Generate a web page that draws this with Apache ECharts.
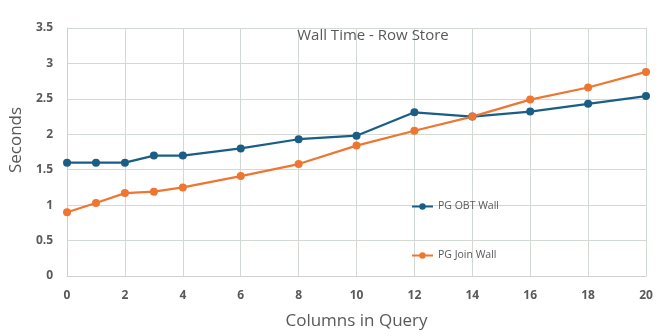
<!DOCTYPE html>
<html>
<head>
<meta charset="utf-8">
<script src="https://cdn.jsdelivr.net/npm/echarts@6/dist/echarts.min.js"></script>
<style>
  html, body { margin: 0; padding: 0; background: #fff; }
  #chart { width: 665px; height: 336px; }
</style>
</head>
<body>
<div id="chart"></div>
<script>
// Number of columns selected in each query
const columns = [0, 1, 2, 3, 4, 6, 8, 10, 12, 14, 16, 18, 20];
// Wall time in seconds, one-big-table layout
const obtWall = [1.60, 1.60, 1.60, 1.70, 1.70, 1.80, 1.93, 1.98, 2.31, 2.25, 2.32, 2.43, 2.54];
// Wall time in seconds, joined-tables layout
const joinWall = [0.90, 1.03, 1.17, 1.19, 1.25, 1.41, 1.58, 1.84, 2.05, 2.25, 2.49, 2.66, 2.88];

const seriesNames = ['PG OBT Wall', 'PG Join Wall'];
const colors = ['#1A5E86', '#EE7631'];

const pairs = (xs, ys) => xs.map((x, i) => [x, ys[i]]);

const chart = echarts.init(document.getElementById('chart'));
const font = '"Open Sans", "Noto Sans", sans-serif';

chart.setOption({
  animation: false,
  textStyle: { fontFamily: font },
  title: {
    text: 'Wall Time - Row Store',
    left: 368,
    top: 23,
    textAlign: 'center',
    textStyle: { fontSize: 15, fontWeight: 'normal', color: '#595959', fontFamily: font }
  },
  legend: {
    orient: 'vertical',
    left: 406,
    top: 196,
    itemGap: 38,
    itemWidth: 21,
    itemHeight: 8,
    textStyle: { fontSize: 10.5, color: '#595959', fontFamily: font },
    data: seriesNames
  },
  grid: { left: 66, right: 19, top: 28, bottom: 60 },
  xAxis: {
    type: 'value',
    min: 0,
    max: 20,
    interval: 2,
    name: 'Columns in Query',
    nameLocation: 'middle',
    nameGap: 37,
    nameTextStyle: { fontSize: 17, color: '#595959', fontFamily: font },
    axisLine: { lineStyle: { color: '#cfcfcf', type: 'dashed' } },
    axisTick: { show: false },
    axisLabel: { margin: 14, fontSize: 12, fontWeight: 'bold', color: '#595959' },
    splitLine: { lineStyle: { color: '#d2d8d2' } }
  },
  yAxis: {
    type: 'value',
    min: 0,
    max: 3.5,
    interval: 0.5,
    name: 'Seconds',
    nameLocation: 'middle',
    nameGap: 40,
    nameTextStyle: { fontSize: 17, color: '#595959', fontFamily: font, padding: [0, 0, 0, 24] },
    axisLine: { show: true, lineStyle: { color: '#cfcfcf', type: 'dashed' } },
    axisTick: { show: false },
    axisLabel: { margin: 14, fontSize: 12, fontWeight: 'bold', color: '#595959' },
    splitLine: { lineStyle: { color: '#d2d8d2' } }
  },
  series: [
    {
      name: seriesNames[0],
      type: 'line',
      data: pairs(columns, obtWall),
      color: colors[0],
      symbol: 'circle',
      symbolSize: 8,
      lineStyle: { width: 2.25 }
    },
    {
      name: seriesNames[1],
      type: 'line',
      data: pairs(columns, joinWall),
      color: colors[1],
      symbol: 'circle',
      symbolSize: 8,
      lineStyle: { width: 2.25 }
    }
  ]
});
</script>
</body>
</html>
